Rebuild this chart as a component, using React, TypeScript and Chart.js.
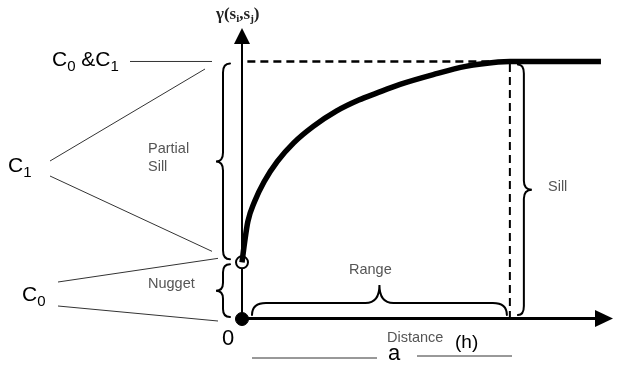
import React, { useEffect, useRef } from "react";
import { Chart, registerables } from "chart.js";

Chart.register(...registerables);

// Semivariogram model (distance h vs gamma)
const curveX = [0, 1, 2.2, 4.7, 8.3, 13.2, 19.3, 26.6, 35.2, 43.6, 50, 59, 71.4, 83.5, 95.6, 100, 134];
const curveY = [0.22, 0.3, 0.379, 0.456, 0.534, 0.612, 0.684, 0.748, 0.807, 0.85, 0.876, 0.911, 0.949, 0.981, 0.998, 1.0, 1.0];
const NUGGET = 0.22; // C0
const SILL = 1.0; // C0 + C1
const RANGE = 100; // a
const X_MAX = 138.5;
const Y_MAX = 1.13;

const SANS = '"Liberation Sans", Arial, sans-serif';
const SERIF = '"Liberation Serif", "Times New Roman", serif';
const GRAY = "#555555";

type Part = { t: string; sub?: boolean };

function drawParts(ctx: CanvasRenderingContext2D, parts: Part[], x: number, y: number, size: number, subSize: number, subDrop: number, family: string, weight = "normal", color = "#000") {
  let cx = x;
  ctx.fillStyle = color;
  ctx.textAlign = "left";
  ctx.textBaseline = "alphabetic";
  for (const p of parts) {
    ctx.font = `${weight} ${p.sub ? subSize : size}px ${family}`;
    ctx.fillText(p.t, cx, y + (p.sub ? subDrop : 0));
    cx += ctx.measureText(p.t).width;
  }
}

function braceV(ctx: CanvasRenderingContext2D, xe: number, y1: number, y2: number, dir: number, q: number, depth: number, r: number) {
  const xb = xe + dir * q;
  const xt = xe + dir * depth;
  const ym = (y1 + y2) / 2;
  ctx.beginPath();
  ctx.moveTo(xe, y1);
  ctx.quadraticCurveTo(xb, y1, xb, y1 + r);
  ctx.lineTo(xb, ym - r);
  ctx.quadraticCurveTo(xb, ym, xt, ym);
  ctx.quadraticCurveTo(xb, ym, xb, ym + r);
  ctx.lineTo(xb, y2 - r);
  ctx.quadraticCurveTo(xb, y2, xe, y2);
  ctx.stroke();
}

function braceH(ctx: CanvasRenderingContext2D, x1: number, x2: number, ye: number, dir: number, q: number, depth: number, r: number) {
  const yb = ye + dir * q;
  const yt = ye + dir * depth;
  const xm = (x1 + x2) / 2;
  ctx.beginPath();
  ctx.moveTo(x1, ye);
  ctx.quadraticCurveTo(x1, yb, x1 + r, yb);
  ctx.lineTo(xm - r, yb);
  ctx.quadraticCurveTo(xm, yb, xm, yt);
  ctx.quadraticCurveTo(xm, yb, xm + r, yb);
  ctx.lineTo(x2 - r, yb);
  ctx.quadraticCurveTo(x2, yb, x2, ye);
  ctx.stroke();
}

function line(ctx: CanvasRenderingContext2D, x1: number, y1: number, x2: number, y2: number) {
  ctx.beginPath();
  ctx.moveTo(x1, y1);
  ctx.lineTo(x2, y2);
  ctx.stroke();
}

const axesPlugin = {
  id: "variogramAxes",
  beforeDatasetsDraw(chart: any) {
    const ctx = chart.ctx as CanvasRenderingContext2D;
    const xs = chart.scales.x;
    const ys = chart.scales.y;
    const x0 = xs.getPixelForValue(0);
    const y0 = ys.getPixelForValue(0);
    const top = ys.getPixelForValue(Y_MAX);
    const right = xs.getPixelForValue(X_MAX);
    ctx.save();
    ctx.strokeStyle = "#000";
    ctx.fillStyle = "#000";
    // y axis
    ctx.lineWidth = 2;
    line(ctx, x0, y0, x0, top + 10);
    ctx.beginPath();
    ctx.moveTo(x0, top);
    ctx.lineTo(x0 - 8, top + 16);
    ctx.lineTo(x0 + 8, top + 16);
    ctx.closePath();
    ctx.fill();
    // x axis
    ctx.lineWidth = 3;
    line(ctx, x0, y0 - 0.5, right - 10, y0 - 0.5);
    ctx.beginPath();
    ctx.moveTo(right, y0 - 0.5);
    ctx.lineTo(right - 18, y0 - 9);
    ctx.lineTo(right - 18, y0 + 8);
    ctx.closePath();
    ctx.fill();
    ctx.restore();
  },
  afterDraw(chart: any) {
    const ctx = chart.ctx as CanvasRenderingContext2D;
    const xs = chart.scales.x;
    const ys = chart.scales.y;
    const x0 = xs.getPixelForValue(0);
    const y0 = ys.getPixelForValue(0);
    const yS = ys.getPixelForValue(SILL);
    const yN = ys.getPixelForValue(NUGGET);
    const xR = xs.getPixelForValue(RANGE);
    ctx.save();
    ctx.strokeStyle = "#000";
    ctx.lineWidth = 2;
    ctx.lineCap = "round";
    // braces
    braceV(ctx, x0 - 12, yS + 2, yN - 3, -1, 7, 14, 9);
    braceV(ctx, x0 - 12, yN + 2, y0 - 2, -1, 7, 14, 8);
    braceV(ctx, xR + 8, yS + 3, y0 - 4, 1, 6, 14, 9);
    braceH(ctx, x0 + 10, xR - 3, y0 - 4, -1, 12, 30, 14);

    // thin leader lines
    ctx.strokeStyle = "#333";
    ctx.lineWidth = 1;
    ctx.lineCap = "butt";
    line(ctx, 130, yS, 212, yS);
    line(ctx, 50, 161, 205, 69);
    line(ctx, 50, 176, 212, yN - 11);
    line(ctx, 58, 282, 218, yN - 4);
    line(ctx, 58, 306, 218, y0 + 2);
    line(ctx, 252, 358, 377, 358);
    line(ctx, 417, 356, 512, 356);

    // black labels
    drawParts(ctx, [{ t: "C" }, { t: "0", sub: true }, { t: " &C" }, { t: "1", sub: true }], 52, 66, 21, 15, 5, SANS);
    drawParts(ctx, [{ t: "C" }, { t: "1", sub: true }], 8, 172, 21, 15, 5, SANS);
    drawParts(ctx, [{ t: "C" }, { t: "0", sub: true }], 22, 301, 21, 15, 5, SANS);
    drawParts(ctx, [{ t: "0" }], 222, 345, 22, 15, 0, SANS);
    drawParts(ctx, [{ t: "a" }], 388, 360, 22, 15, 0, SANS);
    drawParts(ctx, [{ t: "(h)" }], 455, 348, 19, 15, 0, SANS);
    drawParts(ctx, [{ t: "γ(" }, { t: "s" }, { t: "i", sub: true }, { t: "," }, { t: "s" }, { t: "j", sub: true }, { t: ")" }], 216, 19, 17, 11, 3, SERIF, "bold", "#222");

    // gray labels
    ctx.fillStyle = GRAY;
    ctx.font = `14.5px ${SANS}`;
    ctx.textAlign = "left";
    ctx.fillText("Partial", 148, 153);
    ctx.fillText("Sill", 148, 171);
    ctx.fillText("Nugget", 148, 288);
    ctx.fillText("Range", 349, 274);
    ctx.fillText("Sill", 548, 191);
    ctx.fillText("Distance", 387, 342);
    ctx.restore();
  },
};

export default function App() {
  const ref = useRef<HTMLCanvasElement | null>(null);
  useEffect(() => {
    if (!ref.current) return;
    const chart = new Chart(ref.current, {
      type: "scatter",
      data: {
        datasets: [
          {
            label: "sill",
            data: [
              { x: 2, y: SILL },
              { x: RANGE, y: SILL },
            ],
            showLine: true,
            borderColor: "#000",
            borderWidth: 2.5,
            borderDash: [8, 5],
            pointRadius: 0,
            clip: false,
          },
          {
            label: "range",
            data: [
              { x: RANGE, y: 0 },
              { x: RANGE, y: SILL },
            ],
            showLine: true,
            borderColor: "#000",
            borderWidth: 2,
            borderDash: [8, 5],
            pointRadius: 0,
            clip: false,
          },
          {
            label: "model",
            data: curveX.map((x, i) => ({ x, y: curveY[i] })),
            showLine: true,
            borderColor: "#000",
            borderWidth: 5.5,
            cubicInterpolationMode: "monotone",
            pointRadius: 0,
            clip: false,
          },
          {
            label: "nugget",
            data: [{ x: 0, y: NUGGET }],
            pointRadius: 6,
            pointBackgroundColor: "#fff",
            pointBorderColor: "#000",
            pointBorderWidth: 2,
            clip: false,
          },
          {
            label: "origin",
            data: [{ x: 0, y: 0 }],
            pointRadius: 6.5,
            pointBackgroundColor: "#000",
            pointBorderColor: "#000",
            pointBorderWidth: 1,
            clip: false,
          },
        ],
      } as any,
      options: {
        animation: false,
        responsive: false,
        events: [],
        layout: { padding: { left: 242, right: 1, top: 28, bottom: 48 } },
        plugins: { legend: { display: false }, tooltip: { enabled: false } },
        scales: {
          x: { type: "linear", min: 0, max: X_MAX, display: false },
          y: { type: "linear", min: 0, max: Y_MAX, display: false },
        },
      } as any,
      plugins: [axesPlugin],
    });
    return () => chart.destroy();
  }, []);
  return (
    <div style={{ position: "fixed", left: 0, top: 0, width: 621, height: 367, background: "#fff" }}>
      <canvas ref={ref} width={621} height={367} />
    </div>
  );
}
